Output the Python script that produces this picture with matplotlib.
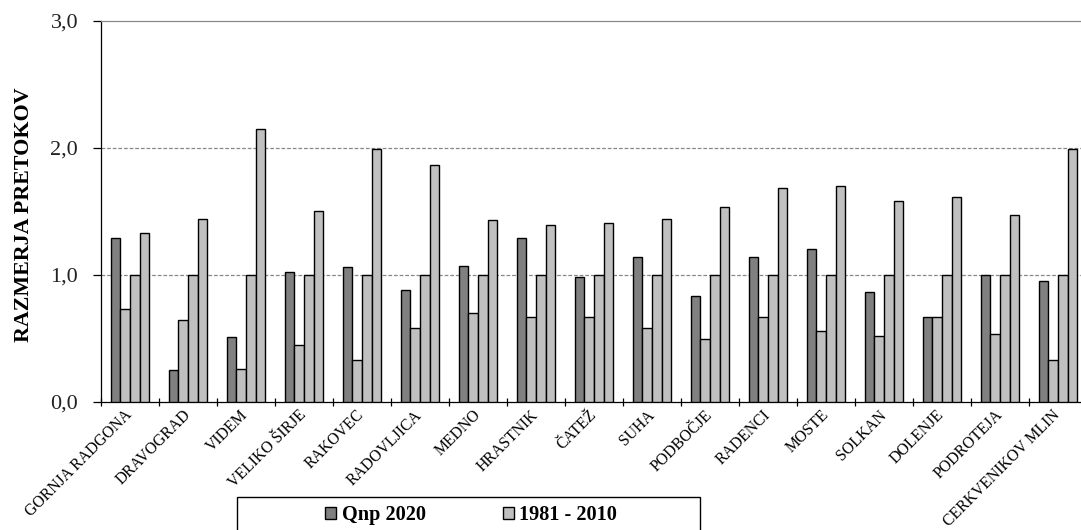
#!/usr/bin/python
# -*- coding: utf8 -*-
"""
Razmerja pretokov: Qnp 2020 compared with 1981 - 2010
"""

import numpy as np
import matplotlib
matplotlib.use('Agg')
import matplotlib.pyplot as plt
from matplotlib.patches import Rectangle

stations = ['GORNJA RADGONA', 'DRAVOGRAD', 'VIDEM', 'VELIKO ŠIRJE', 'RAKOVEC',
            'RADOVLJICA', 'MEDNO', 'HRASTNIK', 'ČATEŽ', 'SUHA', 'PODBOČJE',
            'RADENCI', 'MOSTE', 'SOLKAN', 'DOLENJE', 'PODROTEJA',
            'CERKVENIKOV MLIN']
qnp_2020 = [1.29, 0.25, 0.51, 1.02, 1.06, 0.88, 1.07, 1.29, 0.98, 1.14, 0.83,
            1.14, 1.20, 0.86, 0.67, 1.00, 0.95]
ref_low = [0.73, 0.64, 0.26, 0.45, 0.33, 0.58, 0.70, 0.67, 0.67, 0.58, 0.49,
           0.67, 0.56, 0.52, 0.67, 0.53, 0.33]
ref_mid = [1.0, 1.0, 1.0, 1.0, 1.0, 1.0, 1.0, 1.0, 1.0, 1.0, 1.0,
           1.0, 1.0, 1.0, 1.0, 1.0, 1.0]
ref_high = [1.33, 1.44, 2.15, 1.50, 1.99, 1.86, 1.43, 1.39, 1.41, 1.44, 1.53,
            1.68, 1.70, 1.58, 1.61, 1.47, 1.99]
y_ticks = [0.0, 1.0, 2.0, 3.0]
y_tick_labels = ['0,0', '1,0', '2,0', '3,0']

plt.rcParams['font.family'] = ['Liberation Serif', 'DejaVu Serif']

W, H = 1081, 530
fig = plt.figure(figsize=(W / 100, H / 100), dpi=100)
ax = fig.add_axes([101 / W, (H - 401.7) / H, 986 / W, 381 / H])

x = np.arange(len(stations))
w = 0.167
dark = '#808080'
light = '#c0c0c0'
kw = dict(width=w, edgecolor='black', linewidth=1.0, zorder=3)
b1 = ax.bar(x - 1.5 * w, qnp_2020, color=dark, **kw)
b2 = ax.bar(x - 0.5 * w, ref_low, color=light, **kw)
ax.bar(x + 0.5 * w, ref_mid, color=light, **kw)
ax.bar(x + 1.5 * w, ref_high, color=light, **kw)

# dashed grid at 1 and 2
for yv in y_ticks[1:3]:
    ax.axhline(yv, color='#888888', linestyle=(0, (3, 1.5)), linewidth=0.9, zorder=1)

ax.set_xlim(-0.5, len(stations) - 0.5)
ax.set_ylim(0, 3.0)
ax.set_yticks(y_ticks)
ax.set_yticklabels(y_tick_labels, fontsize=16, color='#222222')
ax.tick_params(axis='y', direction='out', length=6, width=0.9, pad=10.5)

ax.set_xticks(x)
ax.set_xticklabels(stations, rotation=45, ha='right', va='center',
                   rotation_mode='anchor', fontsize=11.3)
ax.tick_params(axis='x', which='major', length=0, pad=8)
ax.set_xticks(np.arange(len(stations) + 1) - 0.5, minor=True)
ax.tick_params(axis='x', which='minor', direction='inout', length=6, width=0.9)

for side in ['left', 'bottom']:
    ax.spines[side].set_color('black')
    ax.spines[side].set_linewidth(0.9)
ax.spines['top'].set_color('#888888')
ax.spines['top'].set_linewidth(0.9)
ax.spines['right'].set_visible(False)

fig.text(24 / W, 1 - 214.5 / H, 'RAZMERJA PRETOKOV', rotation=90,
         ha='center', va='center', fontsize=15.8, fontweight='bold')

# legend box
fig.legend([b1, b2], ['Qnp 2020', '1981 - 2010'], loc='center',
           bbox_to_anchor=(471 / W, 1 - 515 / H), ncol=2, frameon=False,
           prop={'size': 14.6, 'weight': 'bold'}, handlelength=0.55,
           handleheight=0.55, handletextpad=0.25, columnspacing=3.8)
fig.patches.append(Rectangle((237 / W, -0.05), (700 - 237) / W,
                             0.05 + 1 - 497 / H, transform=fig.transFigure,
                             fill=False, edgecolor='black', linewidth=1))

fig.savefig('out.png', dpi=100)
